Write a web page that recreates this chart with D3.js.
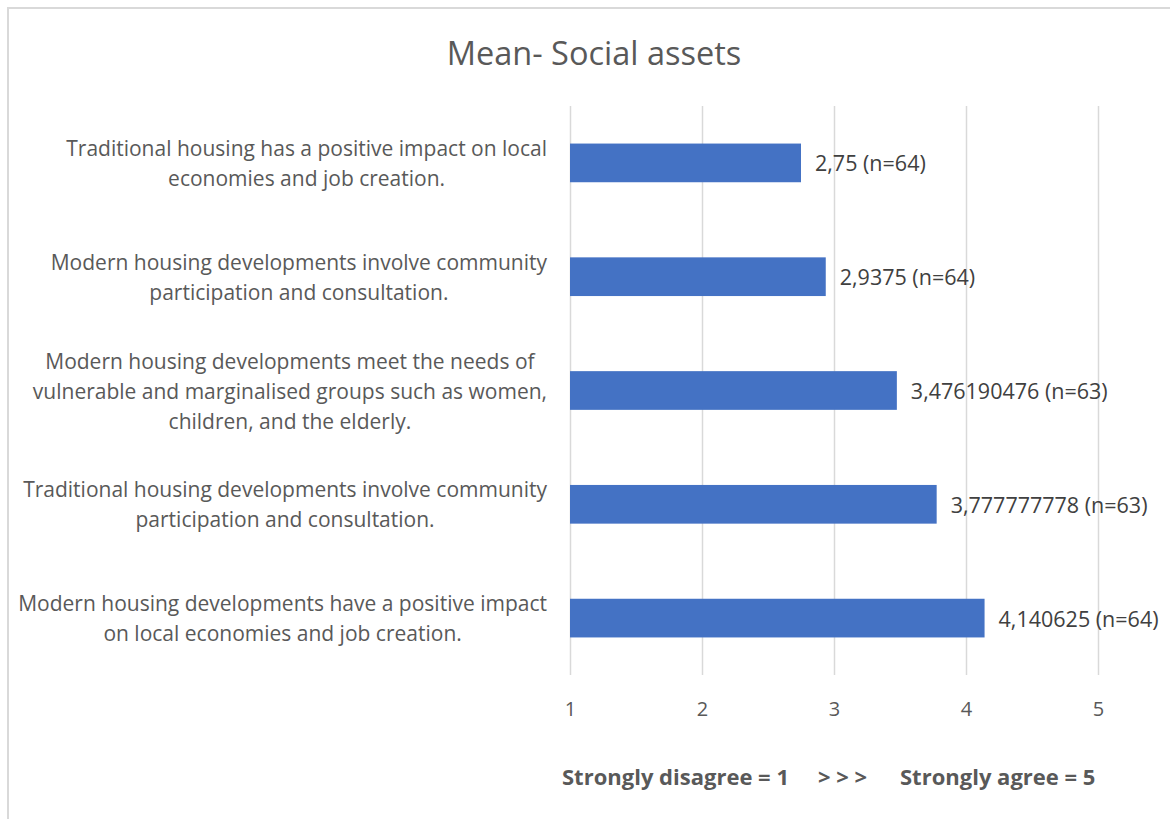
<!DOCTYPE html>
<html>
<head>
<meta charset="utf-8">
<script src="https://cdn.jsdelivr.net/npm/d3@7"></script>
<style>
  html, body { margin: 0; padding: 0; background: #fff; }
  svg { display: block; }
  text { font-family: "Open Sans", "Noto Sans", sans-serif; }
</style>
</head>
<body>
<svg id="chart" width="1170" height="819"></svg>
<script>
// ---- data ----
const title = "Mean- Social assets";
const categories = [
  ["Traditional housing has a positive impact on local", "economies and job creation."],
  ["Modern housing developments involve community", "participation and consultation."],
  ["Modern housing developments meet the needs of", "vulnerable and marginalised groups such as women,", "children, and the elderly."],
  ["Traditional housing developments involve community", "participation and consultation."],
  ["Modern housing developments have a positive impact", "on local economies and job creation."]
];
const means = [2.75, 2.9375, 3.476190476, 3.777777778, 4.140625];
const valueLabels = ["2,75", "2,9375", "3,476190476", "3,777777778", "4,140625"];
const nValues = [64, 64, 63, 63, 64];
const tickValues = [1, 2, 3, 4, 5];
const footerParts = ["Strongly disagree = 1", "> > >", "Strongly agree = 5"];

// ---- layout ----
const svg = d3.select("#chart");
const plot = { left: 570, right: 1098, top: 106, bottom: 675 };

// frame
svg.append("rect")
  .attr("x", 8).attr("y", 8)
  .attr("width", 1200).attr("height", 900)
  .attr("fill", "#fff")
  .attr("stroke", "#d9d9d9").attr("stroke-width", 2);

const x = d3.scaleLinear().domain([1, 5]).range([plot.left, plot.right]);
const idx = d3.range(categories.length);
const y = d3.scaleBand().domain(idx).range([plot.top, plot.bottom]).paddingInner(0.66).paddingOuter(0.33);

// title
svg.append("text")
  .attr("x", 594).attr("y", 52)
  .attr("text-anchor", "middle").attr("dominant-baseline", "central")
  .attr("fill", "#595959").attr("font-size", 32.5)
  .text(title);

// gridlines via axis
const gridAxis = d3.axisBottom(x).tickValues(tickValues).tickSize(-(plot.bottom - plot.top)).tickFormat("");
const gg = svg.append("g").attr("transform", `translate(0,${plot.bottom})`).call(gridAxis);
gg.select(".domain").remove();
gg.selectAll(".tick line").attr("stroke", "#d9d9d9").attr("stroke-width", 1.5);

// tick labels
const tickAxis = d3.axisBottom(x).tickValues(tickValues).tickSize(0).tickPadding(0).tickFormat(d3.format("d"));
const tg = svg.append("g").attr("transform", `translate(0,708)`).call(tickAxis);
tg.select(".domain").remove();
tg.selectAll(".tick text")
  .attr("font-family", "\"Open Sans\", sans-serif")
  .attr("font-size", 20).attr("fill", "#595959")
  .attr("dy", null).attr("y", 0).attr("dominant-baseline", "central");

// bars
svg.append("g").selectAll("rect").data(idx).join("rect")
  .attr("x", x(1))
  .attr("y", i => y(i))
  .attr("width", i => x(means[i]) - x(1))
  .attr("height", y.bandwidth())
  .attr("fill", "#4472c4");

// value labels
svg.append("g").selectAll("text").data(idx).join("text")
  .attr("x", i => x(means[i]) + 14)
  .attr("y", i => y(i) + y.bandwidth() / 2)
  .attr("dominant-baseline", "central")
  .attr("font-size", 21.5).attr("fill", "#404040")
  .text(i => `${valueLabels[i]} (n=${nValues[i]})`);

// category labels
const lineH = 30;
const labelRight = 547;
const cg = svg.append("g");
idx.forEach(i => {
  const lines = categories[i];
  const cy = y(i) + y.bandwidth() / 2;
  const t = cg.append("text")
    .attr("font-size", 21).attr("fill", "#595959")
    .attr("text-anchor", "middle").attr("dominant-baseline", "central");
  const spans = lines.map((ln, k) => t.append("tspan")
    .attr("y", cy + (k - (lines.length - 1) / 2) * lineH)
    .text(ln));
  const maxW = d3.max(spans, s => s.node().getComputedTextLength());
  spans.forEach(s => s.attr("x", labelRight - maxW / 2));
});

// footer
const ft = svg.append("text")
  .attr("y", 776).attr("dominant-baseline", "central")
  .attr("font-size", 22).attr("font-weight", "bold").attr("fill", "#595959");
const fx = [562, 818, 900];
footerParts.forEach((p, k) => ft.append("tspan").attr("x", fx[k]).text(p));
</script>
</body>
</html>
